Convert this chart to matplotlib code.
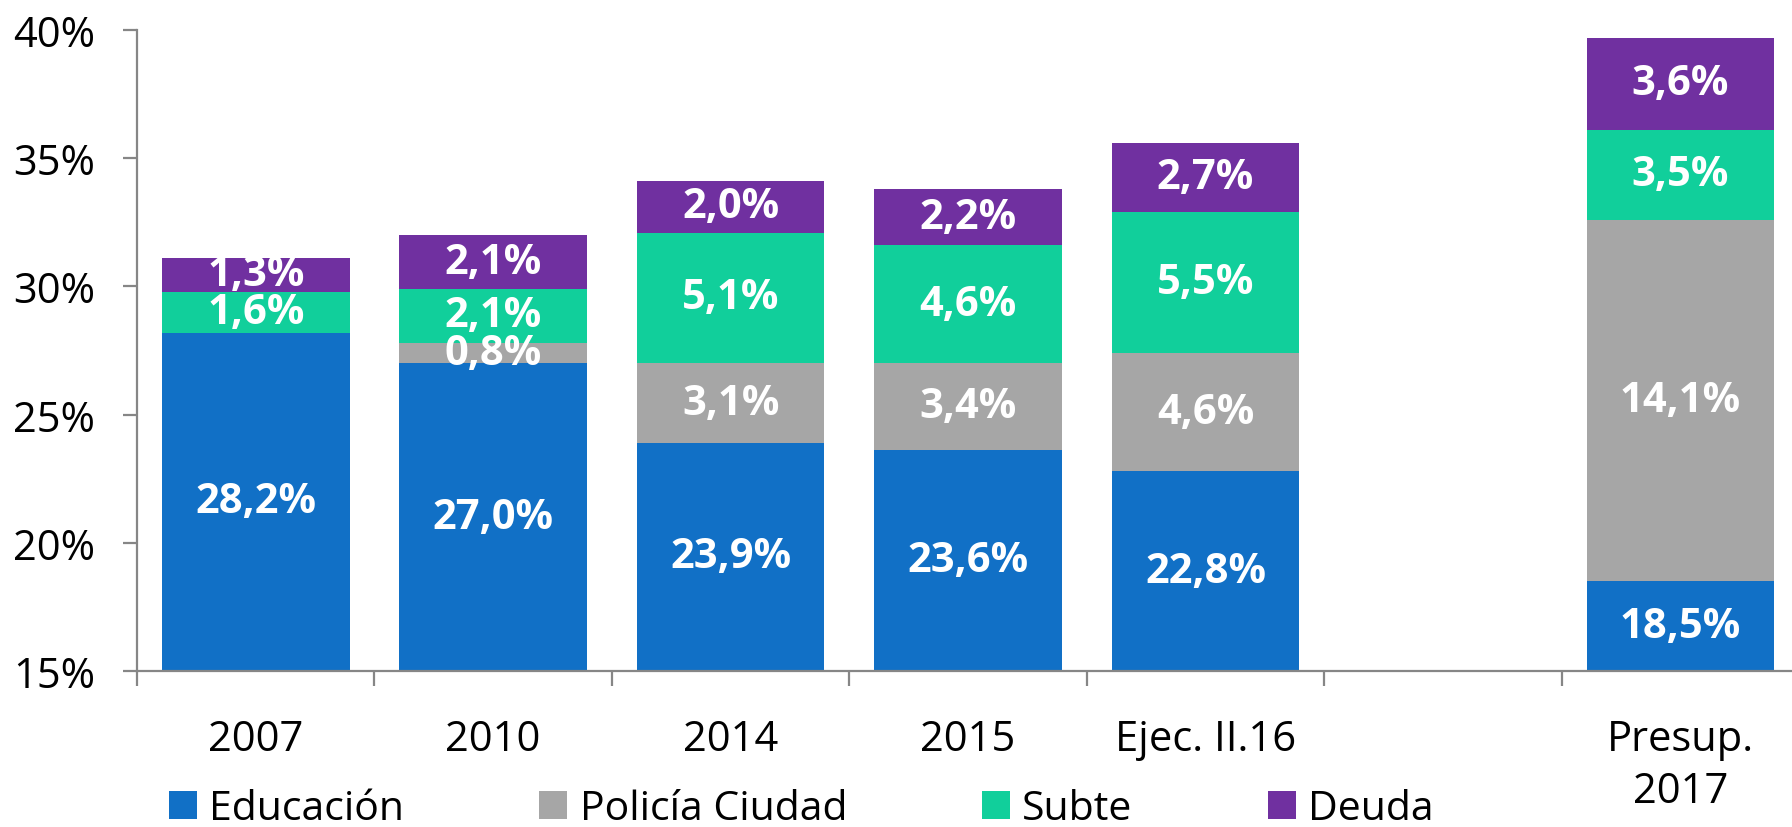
import matplotlib
matplotlib.use("Agg")
import matplotlib.pyplot as plt
from matplotlib.patches import Patch
import numpy as np

categories = ["2007", "2010", "2014", "2015", "Ejec. II.16", "", "Presup.\n2017"]
educacion = [28.2, 27.0, 23.9, 23.6, 22.8, 0.0, 18.5]
policia = [0.0, 0.8, 3.1, 3.4, 4.6, 0.0, 14.1]
subte = [1.6, 2.1, 5.1, 4.6, 5.5, 0.0, 3.5]
deuda = [1.3, 2.1, 2.0, 2.2, 2.7, 0.0, 3.6]
series_names = ["Educación", "Policía Ciudad", "Subte", "Deuda"]
colors = ["#1170C6", "#A6A6A6", "#11CF9B", "#7030A0"]
yticks = [15, 20, 25, 30, 35, 40]

plt.rcParams['font.family'] = ['Open Sans', 'DejaVu Sans']

fig = plt.figure(figsize=(17.92, 8.28), dpi=100)
ax = fig.add_axes([137/1792, 1-672/828, 1-137/1792, (672-31)/828])

x = np.arange(len(categories))
ymin = 15
bottom = np.zeros(len(categories))
for name, vals, col in zip(series_names, [educacion, policia, subte, deuda], colors):
    vals = np.array(vals)
    ax.bar(x, vals, bottom=bottom, width=0.79, color=col, label=name, zorder=2)
    for xi, b, v in zip(x, bottom, vals):
        if v > 0:
            top = b + v
            yc = (max(b, ymin) + top) / 2
            ax.text(xi, yc, f"{v:.1f}%".replace(".", ","), ha="center", va="center",
                    color="white", fontsize=30, fontweight="bold", zorder=3)
    bottom = bottom + vals

ax.set_ylim(15, 40)
ax.set_xlim(-0.5, 6.47)
ax.set_yticks(yticks)
ax.set_yticklabels([f"{t}%" for t in yticks])
ax.set_xticks(x)
ax.set_xticklabels(categories, linespacing=1.3)
ax.set_xticks(np.arange(-0.5, 6.5, 1.0), minor=True)

for s in ["top", "right"]:
    ax.spines[s].set_visible(False)
for s in ["left", "bottom"]:
    ax.spines[s].set_color("#868686")
    ax.spines[s].set_linewidth(1.6)

ax.tick_params(axis="y", length=10, width=1.6, color="#868686", pad=20, labelsize=30)
ax.tick_params(axis="x", which="major", length=0, pad=34, labelsize=30)
ax.tick_params(axis="x", which="minor", length=11, width=1.6, color="#868686")

handles = [Patch(facecolor=c, edgecolor="none") for c in colors]
fig.legend(handles, series_names, loc="center left", bbox_to_anchor=(169/1792, 1-810/828),
           ncol=4, frameon=False, fontsize=29.5, handlelength=0.68, handleheight=0.68,
           handletextpad=0.3, columnspacing=3.3, borderpad=0, borderaxespad=0)

fig.savefig("out.png", dpi=100)
